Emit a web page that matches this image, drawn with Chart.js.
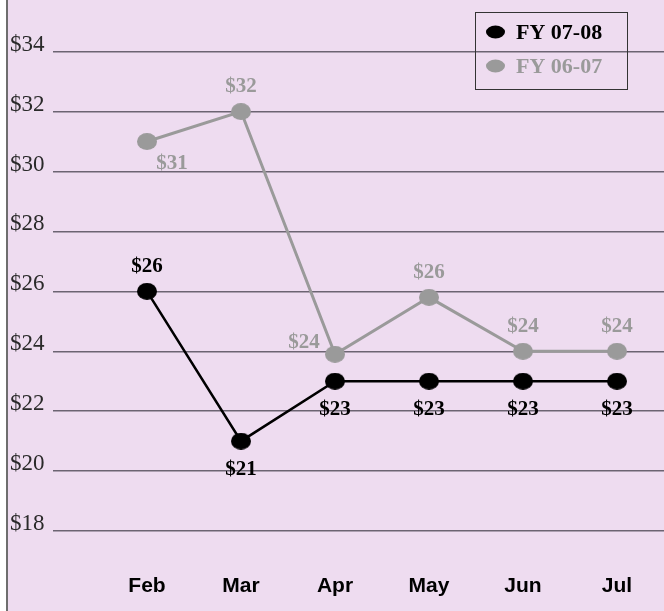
<!DOCTYPE html>
<html>
<head>
<meta charset="utf-8">
<script src="https://cdn.jsdelivr.net/npm/chart.js@4"></script>
<style>
  html, body { margin: 0; padding: 0; background: #fff; }
  #chart { display: block; }
</style>
</head>
<body>
<canvas id="chart" width="664" height="611"></canvas>
<script>
// Values
const months = ['Feb', 'Mar', 'Apr', 'May', 'Jun', 'Jul'];
const fy0708 = [26, 21, 23, 23, 23, 23];
const fy0607 = [31, 32, 23.9, 25.8, 24, 24];
const yTicks = [18, 20, 22, 24, 26, 28, 30, 32, 34];

// where each value label sits relative to its point
const place0708 = ['above', 'below', 'below', 'below', 'below', 'below'];
const place0607 = ['belowRight', 'above', 'left', 'above', 'above', 'above'];

const BG = '#EEDCF0';
const GREY = '#9a9a9a';
const SERIF = "'Liberation Serif', 'Times New Roman', serif";

function ellipse(w, h, color) {
    const c = document.createElement('canvas');
    c.width = w;
    c.height = h;
    const g = c.getContext('2d');
    g.fillStyle = color;
    g.beginPath();
    g.ellipse(w / 2, h / 2, w / 2, h / 2, 0, 0, Math.PI * 2);
    g.fill();
    return c;
}

const offsets = {
    above: [0, -25],
    below: [0, 28],
    belowRight: [25, 22],
    left: [-31, -12]
};

const background = {
    id: 'background',
    beforeDraw(chart) {
        const ctx = chart.ctx;
        ctx.save();
        ctx.fillStyle = '#fff';
        ctx.fillRect(0, 0, chart.width, chart.height);
        ctx.fillStyle = BG;
        ctx.fillRect(8, 0, chart.width - 8, chart.height);
        ctx.strokeStyle = '#6e6e6e';
        ctx.lineWidth = 2;
        ctx.beginPath();
        ctx.moveTo(7, 0);
        ctx.lineTo(7, chart.height);
        ctx.stroke();
        ctx.restore();
    }
};

const valueLabels = {
    id: 'valueLabels',
    afterDatasetsDraw(chart) {
        const ctx = chart.ctx;
        ctx.save();
        ctx.font = 'bold 21px ' + SERIF;
        ctx.textAlign = 'center';
        ctx.textBaseline = 'middle';
        chart.data.datasets.forEach((ds, di) => {
            const meta = chart.getDatasetMeta(di);
            ctx.fillStyle = ds.labelColor;
            meta.data.forEach((pt, i) => {
                const off = offsets[ds.labelPlace[i]];
                const v = ds.data[i].y;
                ctx.fillText('$' + Math.round(v), pt.x + off[0], pt.y + off[1]);
            });
        });
        ctx.restore();
    }
};

const boxLegend = {
    id: 'boxLegend',
    afterDraw(chart) {
        const ctx = chart.ctx;
        ctx.save();
        ctx.strokeStyle = '#333';
        ctx.lineWidth = 1;
        ctx.strokeRect(475.5, 12.5, 152, 77);
        ctx.font = 'bold 22px ' + SERIF;
        ctx.textAlign = 'left';
        ctx.textBaseline = 'middle';
        chart.data.datasets.forEach((ds, i) => {
            const y = 32 + i * 34;
            ctx.fillStyle = ds.labelColor;
            ctx.beginPath();
            ctx.ellipse(495.5, y, 9.5, 6.5, 0, 0, Math.PI * 2);
            ctx.fill();
            ctx.fillText(ds.label, 516, y + 1);
        });
        ctx.restore();
    }
};

const ctx = document.getElementById('chart').getContext('2d');
new Chart(ctx, {
    type: 'line',
    data: {
        datasets: [
            {
                label: 'FY 07-08',
                data: fy0708.map((v, i) => ({ x: i, y: v })),
                borderColor: '#000',
                borderWidth: 2.5,
                pointStyle: ellipse(20, 17, '#000'),
                labelColor: '#000',
                labelPlace: place0708
            },
            {
                label: 'FY 06-07',
                data: fy0607.map((v, i) => ({ x: i, y: v })),
                borderColor: GREY,
                borderWidth: 3,
                pointStyle: ellipse(20, 17, GREY),
                labelColor: GREY,
                labelPlace: place0607
            }
        ]
    },
    options: {
        responsive: false,
        animation: false,
        devicePixelRatio: 1,
        layout: { autoPadding: false, padding: { top: 0, left: 10, right: 0, bottom: 0 } },
        plugins: {
            legend: { display: false },
            tooltip: { enabled: false }
        },
        scales: {
            x: {
                type: 'linear',
                min: -1,
                max: 5.5,
                afterBuildTicks: (scale) => {
                    scale.ticks = months.map((m, i) => ({ value: i }));
                },
                afterFit: (scale) => { scale.height = 56; },
                grid: { display: false, drawTicks: false },
                border: { display: false },
                ticks: {
                    padding: 19,
                    color: '#000',
                    font: { family: "'Liberation Sans Narrow', 'Arial Narrow', 'Liberation Sans', sans-serif", size: 21, weight: 'bold' },
                    callback: (v) => months[v]
                }
            },
            y: {
                min: 17.2,
                max: 35.03,
                afterBuildTicks: (scale) => {
                    scale.ticks = yTicks.map(v => ({ value: v }));
                },
                afterFit: (scale) => { scale.width = 43; },
                grid: { color: '#6c6472', lineWidth: 1.5, drawTicks: false },
                border: { display: false },
                ticks: {
                    crossAlign: 'far',
                    labelOffset: -7,
                    padding: 7,
                    color: '#2a2a2a',
                    font: { family: SERIF, size: 23 },
                    callback: (v) => '$' + v
                }
            }
        }
    },
    plugins: [background, valueLabels, boxLegend]
});
</script>
</body>
</html>
